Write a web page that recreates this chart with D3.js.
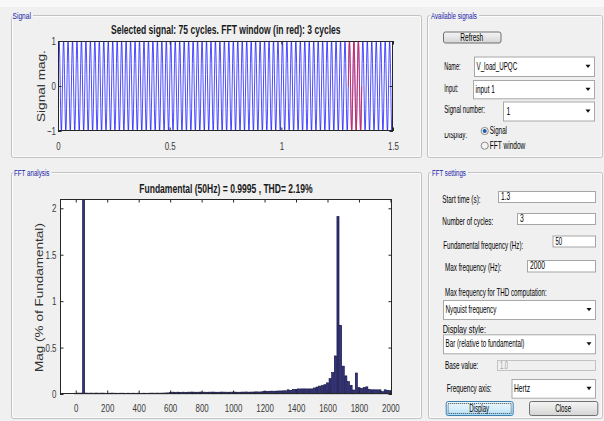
<!DOCTYPE html>
<html><head><meta charset="utf-8">
<script src="https://cdn.jsdelivr.net/npm/d3@7"></script>
<style>body{margin:0;background:#f0f0f0;overflow:hidden} svg{display:block}</style>
</head><body><svg id="c" width="604" height="421"></svg>
<script>
// ---------------- data ----------------
const signalTitle = "Selected signal: 75 cycles. FFT window (in red): 3 cycles";
const fftTitle = "Fundamental (50Hz) = 0.9995 , THD= 2.19%";
const signalCycles = 75;
const signalDuration = 1.5;          // s
const fundamentalHz = 50;
const fftWindowStart = 1.3;          // s
const fftWindowCycles = 3;
// one cycle of the displayed signal (peak 1 / trough -1)
const cycleSamples = [0, 0.26, 0.5, 0.71, 0.87, 0.97, 1, 0.97, 0.87, 0.71, 0.5, 0.26,
                      0, -0.26, -0.5, -0.71, -0.87, -0.97, -1, -0.97, -0.87, -0.71, -0.5, -0.26];
const signalXTicks = [0, 0.5, 1, 1.5];
const signalYTicks = [-1, 0, 1];
// FFT magnitudes (% of fundamental) for bins 0..120 (bin spacing = 50/3 Hz)
const fftMagnitudes = [
 0.008, 0.010, 0.010, 100,   0.010, 0.009, 0.010, 0.009, 0.010, 0.009,
 0.010, 0.009, 0.008, 0.009, 0.010, 0.009, 0.008, 0.009, 0.009, 0.008,
 0.009, 0.008, 0.009, 0.008, 0.009, 0.008, 0.009, 0.008, 0.009, 0.010,
 0.009, 0.010, 0.009, 0.010, 0.011, 0.012, 0.018, 0.020, 0.019, 0.020,
 0.018, 0.020, 0.017, 0.020, 0.021, 0.020, 0.019, 0.020, 0.021, 0.020,
 0.019, 0.020, 0.021, 0.020, 0.019, 0.020, 0.021, 0.020, 0.019, 0.020,
 0.021, 0.020, 0.019, 0.020, 0.021, 0.022, 0.020, 0.021, 0.022, 0.023,
 0.022, 0.024, 0.030, 0.028, 0.030, 0.031, 0.030, 0.032, 0.033, 0.034,
 0.035, 0.045, 0.040, 0.050, 0.050, 0.055, 0.055, 0.055, 0.055, 0.055,
 0.055, 0.065, 0.075, 0.085, 0.090, 0.100, 0.120, 0.165, 0.230, 0.410,
 1.910, 0.740, 0.300, 0.195, 0.133, 0.094, 0.043, 0.226, 0.068, 0.060,
 0.070, 0.077, 0.050, 0.045, 0.045, 0.045, 0.045, 0.025, 0.045, 0.040,
 0.035
];
const fftXTicks = [0, 200, 400, 600, 800, 1000, 1200, 1400, 1600, 1800, 2000];
const fftYTicks = [0, 0.5, 1, 1.5, 2];

// ---------------- helpers ----------------
const svg = d3.select('#c');
const FONT = "'Liberation Sans', Arial, Helvetica, sans-serif";
const BG = '#f0f0f0';

function txt(g, x, y, s, o = {}) {
  const size = o.size || 10, k0 = o.k || 0.68;
  const t = g.append('text').attr('font-family', FONT).attr('font-size', size)
    .attr('font-weight', o.weight || 'normal').attr('fill', o.fill || '#000').text(s);
  const w = t.node().getComputedTextLength();
  const k = o.width ? o.width / w : k0;
  const a = o.anchor || 'start';
  const x0 = a === 'start' ? x : a === 'middle' ? x - w * k / 2 : x - w * k;
  t.attr('transform', `translate(${x0},${y}) scale(${k},1)`);
  return t;
}
function vtxt(g, cx, cy, s, len, thick, size) {
  const t = g.append('text').attr('font-family', FONT).attr('font-size', size)
    .attr('fill', '#333').text(s);
  const w = t.node().getComputedTextLength();
  t.attr('x', -w / 2).attr('y', 0)
   .attr('transform', `translate(${cx},${cy}) rotate(-90) scale(${len / w},${thick})`);
}
function panel(x, y, w, h, label, lx, lw) {
  svg.append('rect').attr('x', x + 0.5).attr('y', y + 0.5).attr('width', w).attr('height', h)
    .attr('rx', 2).attr('fill', 'none').attr('stroke', '#c2c2c2');
  svg.append('rect').attr('x', x + 1.5).attr('y', y + 1.5).attr('width', w - 2).attr('height', h - 2)
    .attr('rx', 2).attr('fill', 'none').attr('stroke', '#ffffff').attr('stroke-opacity', 0.8);
  svg.append('rect').attr('x', lx - 1).attr('y', y - 4).attr('width', lw + 3).attr('height', 9).attr('fill', BG);
  txt(svg, lx, y + 3.5, label, { size: 9, width: lw, fill: '#1a1aa8' });
}
function editBox(x, y, w, h, s, o = {}) {
  svg.append('rect').attr('x', x + 0.5).attr('y', y + 0.5).attr('width', w).attr('height', h)
    .attr('fill', o.disabled ? '#f0f0f0' : '#fff').attr('stroke', o.disabled ? '#c2c2c2' : '#a5a5a5');
  txt(svg, x + 3, y + 9, s, { size: 10, fill: o.disabled ? '#a0a0a0' : '#000', width: o.tw });
}
function dropdown(x, y, w, h, s, tw, tx) {
  svg.append('rect').attr('x', x + 0.5).attr('y', y + 0.5).attr('width', w).attr('height', h)
    .attr('fill', '#fff').attr('stroke', '#a8a8a8');
  txt(svg, x + (tx || 2.5), y + h / 2 + 3.5, s, { size: 10, width: tw });
  const ax = x + w - 6, ay = y + h / 2;
  svg.append('path').attr('d', `M${ax - 2.5},${ay - 1.5}L${ax + 2.5},${ay - 1.5}L${ax},${ay + 1.8}Z`).attr('fill', '#111');
}
const defs = svg.append('defs');
const gb = defs.append('linearGradient').attr('id', 'btn').attr('x1', 0).attr('x2', 0).attr('y1', 0).attr('y2', 1);
gb.append('stop').attr('offset', 0).attr('stop-color', '#f4f4f4');
gb.append('stop').attr('offset', 0.5).attr('stop-color', '#e6e6e6');
gb.append('stop').attr('offset', 1).attr('stop-color', '#d4d4d4');
const gf = defs.append('linearGradient').attr('id', 'btnf').attr('x1', 0).attr('x2', 0).attr('y1', 0).attr('y2', 1);
gf.append('stop').attr('offset', 0).attr('stop-color', '#eaf6fd');
gf.append('stop').attr('offset', 0.5).attr('stop-color', '#d9f0fc');
gf.append('stop').attr('offset', 1).attr('stop-color', '#a7d9f5');
function button(x, y, w, h, s, tw, focused) {
  svg.append('rect').attr('x', x + 0.5).attr('y', y + 0.5).attr('width', w).attr('height', h).attr('rx', 2)
    .attr('fill', focused ? 'url(#btnf)' : 'url(#btn)').attr('stroke', focused ? '#3c7fb1' : '#707070');
  if (focused) svg.append('rect').attr('x', x + 2.5).attr('y', y + 2.5).attr('width', w - 4).attr('height', h - 4)
    .attr('fill', 'none').attr('stroke', '#222').attr('stroke-dasharray', '1,1').attr('stroke-width', 0.8);
  txt(svg, x + w / 2, y + h / 2 + 3.5, s, { size: 10, width: tw, anchor: 'middle' });
}
function radio(cx, cy, sel, s, tw) {
  svg.append('circle').attr('cx', cx).attr('cy', cy).attr('r', 3.6).attr('fill', '#f4f4f4').attr('stroke', '#8a8a8a');
  if (sel) svg.append('circle').attr('cx', cx).attr('cy', cy).attr('r', 2).attr('fill', '#1d5ca8');
  txt(svg, cx + 5, cy + 3.3, s, { size: 10, width: tw });
}

function axesFrame(g, x, y, xt, yt, xPad, yPad, xfmt, yfmt) {
  const [x0, x1] = x.range(), [y0, y1] = y.range();
  g.append('rect').attr('x', x0).attr('y', y1).attr('width', x1 - x0).attr('height', y0 - y1).attr('fill', '#fff');
  return () => {
    const TL = 3.5, col = '#262626';
    const style = a => { a.select('.domain').remove(); a.selectAll('line').attr('stroke', col); };
    const ab = g.append('g').attr('transform', `translate(0,${y0})`)
      .call(d3.axisBottom(x).tickValues(xt).tickSize(-TL).tickSizeOuter(0).tickPadding(xPad).tickFormat(xfmt)).call(style);
    g.append('g').attr('transform', `translate(0,${y1})`)
      .call(d3.axisTop(x).tickValues(xt).tickSize(-TL).tickSizeOuter(0).tickFormat('')).call(style);
    const al = g.append('g').attr('transform', `translate(${x0},0)`)
      .call(d3.axisLeft(y).tickValues(yt).tickSize(-TL).tickSizeOuter(0).tickPadding(yPad).tickFormat(yfmt)).call(style);
    g.append('g').attr('transform', `translate(${x1},0)`)
      .call(d3.axisRight(y).tickValues(yt).tickSize(-TL).tickSizeOuter(0).tickFormat('')).call(style);
    const k = 0.72;
    [ab, al].forEach(a => a.selectAll('text').attr('font-family', FONT).attr('font-size', 11).attr('fill', '#3a3a3a'));
    ab.selectAll('text').attr('transform', `scale(${k},1)`);
    al.selectAll('text').attr('x', -yPad / k).attr('transform', `scale(${k},1)`);
    g.append('rect').attr('x', x0 + 0.5).attr('y', y1 + 0.5).attr('width', x1 - x0 - 1).attr('height', y0 - y1 - 1)
      .attr('fill', 'none').attr('stroke', col);
  };
}

// ---------------- background & panels ----------------
svg.append('rect').attr('width', 604).attr('height', 421).attr('fill', BG);
svg.append('rect').attr('width', 604).attr('height', 7).attr('fill', '#f8f8f8');
panel(11, 15, 410, 142, 'Signal', 12.5, 18.5);
panel(427, 15, 175, 142, 'Available signals', 431, 46);
panel(11, 172, 410, 246, 'FFT analysis', 14, 35.5);
panel(428, 172, 174, 246, 'FFT settings', 432, 34);

// ---------------- signal plot ----------------
const sg = svg.append('g');
const sx = d3.scaleLinear().domain([0, signalDuration]).range([58, 393]);
const sy = d3.scaleLinear().domain([-1, 1]).range([131, 41]);
const finishSignal = axesFrame(sg, sx, sy, signalXTicks, signalYTicks, 11, 2, d3.format('~g'), d3.format('~g'));
const pts = [];
const n = cycleSamples.length;
const period = 1 / fundamentalHz;
for (let c = 0; c < signalCycles; c++)
  for (let i = 0; i < n; i++) pts.push([(c + i / n) * period, cycleSamples[i]]);
pts.push([signalCycles * period, cycleSamples[0]]);
defs.append('clipPath').attr('id', 'sclip').append('rect').attr('x', 58).attr('y', 40).attr('width', 335).attr('height', 92);
const line = d3.line().x(d => sx(d[0])).y(d => sy(d[1]));
sg.append('path').attr('clip-path', 'url(#sclip)').attr('d', line(pts))
  .attr('fill', 'none').attr('stroke', '#0000ff').attr('stroke-width', 0.7);
const wEnd = fftWindowStart + fftWindowCycles * period;
const redPts = pts.filter(d => d[0] >= fftWindowStart - 1e-9 && d[0] <= wEnd + 1e-9);
sg.append('path').attr('d', line(redPts)).attr('fill', 'none').attr('stroke', '#ff2020').attr('stroke-width', 0.7);
finishSignal();
txt(sg, 226, 34.3, signalTitle, { size: 12, weight: 'bold', width: 230, anchor: 'middle', fill: '#1a1a1a' });
vtxt(sg, 45, 86, 'Signal mag.', 72, 0.85, 13);

// ---------------- FFT plot ----------------
const fg = svg.append('g');
const fx = d3.scaleLinear().domain([-100, 2010]).range([60, 392]);
const fy = d3.scaleLinear().domain([0, 2.1]).range([394, 199]);
const finishFFT = axesFrame(fg, fx, fy, fftXTicks, fftYTicks, 10, 3.5, d3.format('d'), d3.format('~g'));
const binHz = fundamentalHz / fftWindowCycles;
const bars = fftMagnitudes.map((v, k) => ({ f: k * binHz, v }));
const bw = fx(binHz * 0.8) - fx(0);
defs.append('clipPath').attr('id', 'fclip').append('rect').attr('x', 60).attr('y', 199.5).attr('width', 332).attr('height', 195);
fg.append('g').attr('clip-path', 'url(#fclip)').selectAll('rect').data(bars).join('rect')
  .attr('x', d => fx(d.f) - bw / 2).attr('width', bw)
  .attr('y', d => fy(Math.min(d.v, 2.2))).attr('height', d => fy(0) - fy(Math.min(d.v, 2.2)))
  .attr('fill', '#34347e').attr('stroke', '#0b0b3a').attr('stroke-width', 0.6);
finishFFT();
txt(fg, 226, 193.3, fftTitle, { size: 12, weight: 'bold', width: 173.5, anchor: 'middle', fill: '#1a1a1a' });
vtxt(fg, 43, 297.5, 'Mag (% of Fundamental)', 149, 0.8, 13);

// ---------------- available signals controls ----------------
button(443, 31.5, 57.5, 11, 'Refresh', 23, false);
txt(svg, 444.3, 70, 'Name:', { width: 16.3 });
dropdown(474, 56.5, 120, 19.5, 'V_load_UPQC', 40.7);
txt(svg, 444.3, 91.5, 'Input:', { width: 14 });
dropdown(473, 80, 121, 18.3, 'input 1', 19.3);
txt(svg, 444.3, 112.5, 'Signal number:', { width: 40.7 });
dropdown(503, 101.5, 91, 19, '1', null, 3.5);
defs.append('clipPath').attr('id', 'dclip').append('rect').attr('x', 440).attr('y', 133).attr('width', 40).attr('height', 8);
const dispG = svg.append('g').attr('clip-path', 'url(#dclip)');
txt(dispG, 444.3, 138, 'Display:', { width: 23 });
radio(484.7, 131, true, 'Signal', 17.3);
radio(484.7, 145.7, false, 'FFT window', 35.7);

// ---------------- FFT settings controls ----------------
txt(svg, 442.3, 202.5, 'Start time (s):', { width: 38.3 });
editBox(498, 191, 97, 11, '1.3', { tw: 9.3 });
txt(svg, 442.3, 224.5, 'Number of cycles:', { width: 51 });
editBox(517, 213, 78, 11, '3');
txt(svg, 443.3, 248.5, 'Fundamental frequency (Hz):', { width: 80 });
editBox(552.5, 235.5, 42.5, 11, '50', { tw: 6.7 });
txt(svg, 445, 271, 'Max frequency (Hz):', { width: 56.7 });
editBox(527, 260, 68, 11.5, '2000', { tw: 15 });
txt(svg, 445, 296, 'Max frequency for THD computation:', { width: 101.7 });
dropdown(443, 300, 152, 19, 'Nyquist frequency', 51);
txt(svg, 442.7, 332.5, 'Display style:', { width: 43.3 });
dropdown(443, 334.3, 152, 19, 'Bar (relative to fundamental)', 79);
txt(svg, 445, 368.5, 'Base value:', { width: 33.3 });
editBox(497, 360, 98, 10, '1.0', { disabled: true, tw: 8 });
txt(svg, 446.7, 391.5, 'Frequency axis:', { width: 45 });
dropdown(511.5, 379, 83.5, 18.7, 'Hertz', 16);
button(445.7, 401, 67, 14, 'Display', 20, true);
button(529, 401, 68.3, 14, 'Close', 16, false);
</script></body></html>
